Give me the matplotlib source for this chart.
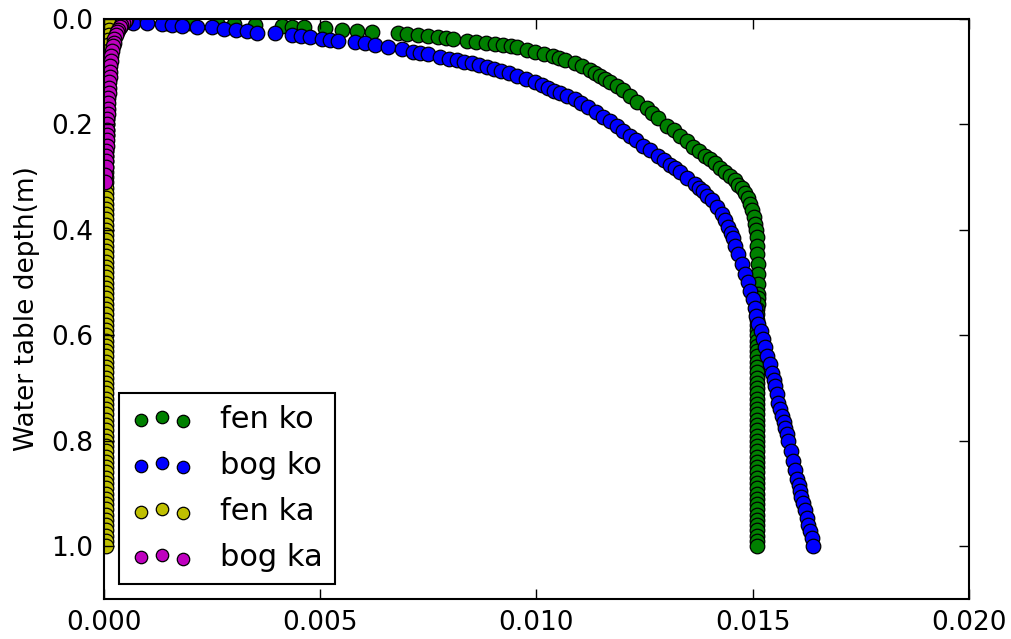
import numpy as np
import matplotlib
matplotlib.use("Agg")
import matplotlib.pyplot as plt
from matplotlib.ticker import FormatStrFormatter

# fen ko (green): curved upper part, then the near-vertical part
fen_ko_x = [0.00146, 0.00200, 0.00261, 0.00300, 0.00349, 0.00412, 0.00435, 0.00462, 0.00511, 0.00550,
            0.00585, 0.00620, 0.00680, 0.00700, 0.00726, 0.00750, 0.00772, 0.00790, 0.00807, 0.00839,
            0.00860, 0.00883, 0.00903, 0.00923, 0.00940, 0.00955, 0.00977, 0.00997, 0.01018, 0.01038,
            0.01052, 0.01066, 0.01089, 0.01106, 0.01124, 0.01136, 0.01147, 0.01159, 0.01170, 0.01185,
            0.01200, 0.01216, 0.01232, 0.01256, 0.01268, 0.01281, 0.01302, 0.01317, 0.01332, 0.01347,
            0.01362, 0.01376, 0.01390, 0.01401, 0.01413, 0.01425, 0.01436, 0.01448, 0.01459, 0.01467,
            0.01475, 0.01483, 0.01489, 0.01494, 0.01498, 0.01502, 0.01505, 0.01508, 0.01510, 0.01510,
            0.01510, 0.01511, 0.01512, 0.01512, 0.01512,
            0.01511, 0.01511, 0.01510, 0.01510, 0.01509, 0.01509, 0.01509, 0.01509, 0.01509, 0.01509,
            0.01509, 0.01509, 0.01509, 0.01510, 0.01510, 0.01510, 0.01510, 0.01510, 0.01510, 0.01510,
            0.01510, 0.01510, 0.01510, 0.01510, 0.01510, 0.01510, 0.01510, 0.01510, 0.01510, 0.01510,
            0.01510, 0.01510, 0.01510, 0.01510, 0.01510, 0.01510, 0.01510, 0.01510, 0.01510, 0.01510,
            0.01510, 0.01510, 0.01510, 0.01510, 0.01510, 0.01510, 0.01510, 0.01510]
fen_ko_d = [0.008, 0.008, 0.008, 0.010, 0.011, 0.013, 0.015, 0.015, 0.017, 0.020,
            0.023, 0.025, 0.027, 0.028, 0.030, 0.032, 0.034, 0.036, 0.038, 0.042,
            0.043, 0.045, 0.047, 0.049, 0.051, 0.053, 0.058, 0.063, 0.066, 0.070,
            0.074, 0.078, 0.084, 0.090, 0.097, 0.102, 0.108, 0.114, 0.120, 0.127,
            0.135, 0.146, 0.158, 0.169, 0.178, 0.188, 0.202, 0.211, 0.221, 0.232,
            0.243, 0.251, 0.259, 0.266, 0.274, 0.282, 0.291, 0.298, 0.306, 0.314,
            0.321, 0.330, 0.340, 0.351, 0.363, 0.375, 0.388, 0.401, 0.414, 0.430,
            0.445, 0.464, 0.483, 0.502, 0.521,
            0.53, 0.54, 0.55, 0.56, 0.57, 0.58, 0.59, 0.60, 0.61, 0.62,
            0.63, 0.64, 0.65, 0.66, 0.67, 0.68, 0.69, 0.70, 0.71, 0.72,
            0.73, 0.74, 0.75, 0.76, 0.77, 0.78, 0.79, 0.80, 0.81, 0.82,
            0.83, 0.84, 0.85, 0.86, 0.87, 0.88, 0.89, 0.90, 0.91, 0.92,
            0.93, 0.94, 0.95, 0.96, 0.97, 0.98, 0.99, 1.00]

# bog ko (blue)
bog_ko_x = [0.00067, 0.00099, 0.00134, 0.00158, 0.00180, 0.00215, 0.00250, 0.00277, 0.00305, 0.00331,
            0.00354, 0.00395, 0.00435, 0.00455, 0.00476, 0.00504, 0.00522, 0.00541, 0.00580, 0.00603,
            0.00627, 0.00657, 0.00689, 0.00714, 0.00731, 0.00749, 0.00777, 0.00797, 0.00816, 0.00833,
            0.00851, 0.00868, 0.00886, 0.00902, 0.00918, 0.00936, 0.00955, 0.00976, 0.00997, 0.01012,
            0.01027, 0.01040, 0.01054, 0.01071, 0.01089, 0.01104, 0.01119, 0.01137, 0.01154, 0.01170,
            0.01186, 0.01201, 0.01216, 0.01231, 0.01246, 0.01263, 0.01281, 0.01295, 0.01309, 0.01320,
            0.01332, 0.01349, 0.01366, 0.01376, 0.01385, 0.01395, 0.01406, 0.01418, 0.01429, 0.01436,
            0.01443, 0.01449, 0.01454, 0.01460, 0.01466, 0.01474, 0.01482, 0.01488, 0.01494, 0.01500,
            0.01505, 0.01508, 0.01512, 0.01518, 0.01524, 0.01529, 0.01533, 0.01539, 0.01545, 0.01548,
            0.01551, 0.01555, 0.01558, 0.01563, 0.01568, 0.01572, 0.01575, 0.01579, 0.01582, 0.01588,
            0.01593, 0.01598, 0.01602, 0.01606, 0.01609, 0.01612, 0.01616, 0.01620, 0.01625, 0.01628,
            0.01632, 0.01636, 0.01639]
bog_ko_d = [0.008, 0.008, 0.010, 0.012, 0.013, 0.015, 0.015, 0.019, 0.021, 0.023,
            0.027, 0.027, 0.030, 0.032, 0.034, 0.038, 0.040, 0.042, 0.044, 0.046,
            0.049, 0.053, 0.057, 0.063, 0.065, 0.067, 0.072, 0.075, 0.078, 0.081,
            0.084, 0.087, 0.091, 0.095, 0.099, 0.103, 0.108, 0.114, 0.120, 0.126,
            0.131, 0.136, 0.141, 0.146, 0.152, 0.160, 0.167, 0.176, 0.186, 0.194,
            0.203, 0.212, 0.221, 0.230, 0.240, 0.249, 0.259, 0.267, 0.276, 0.283,
            0.291, 0.301, 0.312, 0.320, 0.327, 0.335, 0.344, 0.356, 0.369, 0.381,
            0.394, 0.405, 0.416, 0.430, 0.445, 0.464, 0.483, 0.499, 0.515, 0.531,
            0.548, 0.563, 0.578, 0.592, 0.606, 0.622, 0.639, 0.655, 0.671, 0.684,
            0.696, 0.712, 0.728, 0.740, 0.753, 0.765, 0.776, 0.788, 0.800, 0.819,
            0.838, 0.855, 0.873, 0.884, 0.895, 0.906, 0.918, 0.932, 0.947, 0.959,
            0.971, 0.985, 1.000]

# fen ka (yellow), hugging the left spine
fen_ka_x = [0.00012, 0.00012, 0.00011, 0.00011, 0.00010, 0.00010, 0.00009, 0.00009, 0.00008, 0.00008,
            0.00008, 0.00008, 0.00007, 0.00007, 0.00007, 0.00007, 0.00006, 0.00006, 0.00006, 0.00006,
            0.00006, 0.00006, 0.00006, 0.00005, 0.00005, 0.00005, 0.00005, 0.00005, 0.00005, 0.00005,
            0.00005, 0.00005, 0.00005, 0.00005, 0.00005, 0.00005, 0.00005, 0.00005, 0.00005, 0.00005,
            0.00005, 0.00005, 0.00005, 0.00005, 0.00005, 0.00005, 0.00005, 0.00005, 0.00005, 0.00005,
            0.00005, 0.00005, 0.00005, 0.00005, 0.00005, 0.00005, 0.00005, 0.00005, 0.00005, 0.00005,
            0.00005, 0.00005, 0.00005, 0.00005, 0.00005, 0.00005, 0.00005, 0.00005, 0.00005, 0.00005,
            0.00005, 0.00005, 0.00005, 0.00005, 0.00005, 0.00005, 0.00005, 0.00005, 0.00005, 0.00005,
            0.00005, 0.00005, 0.00005, 0.00005, 0.00005, 0.00005, 0.00005, 0.00005, 0.00005, 0.00005,
            0.00005, 0.00005, 0.00005, 0.00005, 0.00005, 0.00005, 0.00005, 0.00005, 0.00005, 0.00005,
            0.00005]
fen_ka_d = [0.00, 0.01, 0.02, 0.03, 0.04, 0.05, 0.06, 0.07, 0.08, 0.09,
            0.10, 0.11, 0.12, 0.13, 0.14, 0.15, 0.16, 0.17, 0.18, 0.19,
            0.20, 0.21, 0.22, 0.23, 0.24, 0.25, 0.26, 0.27, 0.28, 0.29,
            0.30, 0.31, 0.32, 0.33, 0.34, 0.35, 0.36, 0.37, 0.38, 0.39,
            0.40, 0.41, 0.42, 0.43, 0.44, 0.45, 0.46, 0.47, 0.48, 0.49,
            0.50, 0.51, 0.52, 0.53, 0.54, 0.55, 0.56, 0.57, 0.58, 0.59,
            0.60, 0.61, 0.62, 0.63, 0.64, 0.65, 0.66, 0.67, 0.68, 0.69,
            0.70, 0.71, 0.72, 0.73, 0.74, 0.75, 0.76, 0.77, 0.78, 0.79,
            0.80, 0.81, 0.82, 0.83, 0.84, 0.85, 0.86, 0.87, 0.88, 0.89,
            0.90, 0.91, 0.92, 0.93, 0.94, 0.95, 0.96, 0.97, 0.98, 0.99,
            1.00]

# bog ka (magenta)
bog_ka_x = [0.00052, 0.00048, 0.00044, 0.00040, 0.00036, 0.00032, 0.00029, 0.00027, 0.00024, 0.00022,
            0.00020, 0.00019, 0.00017, 0.00016, 0.00015, 0.00014, 0.00013, 0.00012, 0.00011, 0.00011,
            0.00010, 0.00010, 0.00009, 0.00009, 0.00008, 0.00008, 0.00007, 0.00007, 0.00006, 0.00006,
            0.00005, 0.00005, 0.00004, 0.00004, 0.00003, 0.00003]
bog_ka_d = [0.000, 0.004, 0.008, 0.012, 0.016, 0.020, 0.025, 0.030, 0.037, 0.045,
            0.052, 0.060, 0.070, 0.080, 0.090, 0.100, 0.110, 0.120, 0.130, 0.140,
            0.150, 0.160, 0.170, 0.180, 0.190, 0.200, 0.210, 0.220, 0.230, 0.240,
            0.250, 0.260, 0.270, 0.280, 0.295, 0.310]

labels = ["fen ko", "bog ko", "fen ka", "bog ka"]
colors = ["g", "b", "y", "m"]
series = [(fen_ko_x, fen_ko_d), (bog_ko_x, bog_ko_d), (fen_ka_x, fen_ka_d), (bog_ka_x, bog_ka_d)]

fig = plt.figure(figsize=(10.12, 6.39), dpi=100)
ax = fig.add_axes([104 / 1012, 1 - 599 / 639, 865 / 1012, 580 / 639])

for (x, d), c, lab in zip(series, colors, labels):
    ax.scatter(x, d, s=110, c=c, edgecolors="k", linewidths=0.9, label=lab)

ax.set_xlim(0, 0.02)
ax.set_ylim(1.1, 0)
ax.set_xticks([0.0, 0.005, 0.010, 0.015, 0.020])
ax.set_yticks([0.0, 0.2, 0.4, 0.6, 0.8, 1.0])
ax.xaxis.set_major_formatter(FormatStrFormatter("%.3f"))
ax.yaxis.set_major_formatter(FormatStrFormatter("%.1f"))
ax.tick_params(direction="in", length=7, width=1, labelsize=19, top=True, right=True, pad=8)
for sp in ax.spines.values():
    sp.set_linewidth(1.5)

ax.set_ylabel("Water table depth(m)", fontsize=19, labelpad=8)

leg = ax.legend(loc="lower left", scatterpoints=3, fontsize=22, fancybox=False,
                framealpha=1, edgecolor="k", borderpad=0.4, labelspacing=0.55,
                handlelength=2.0, handletextpad=0.9, borderaxespad=0.5)
leg.get_frame().set_linewidth(1.5)
for h in leg.legend_handles:
    h.set_sizes([80])

fig.savefig("out.png", dpi=100, facecolor="white")
